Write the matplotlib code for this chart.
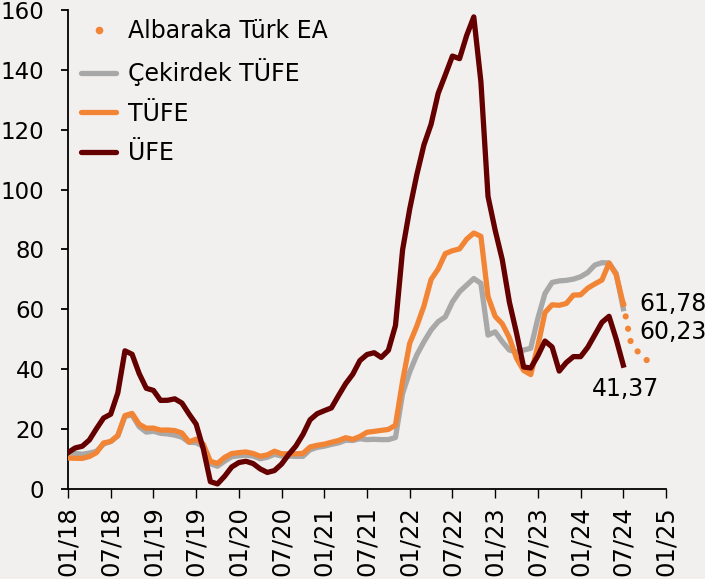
import matplotlib
matplotlib.use("Agg")
import matplotlib.pyplot as plt
from matplotlib.lines import Line2D
import numpy as np

# annual % change, monthly, 01/2018 .. 07/2024
tufe = [
    10.35, 10.26, 10.23, 10.85, 12.15, 15.39, 15.85, 17.90, 24.52, 25.24, 21.62, 20.30,
    20.35, 19.67, 19.71, 19.50, 18.71, 15.72, 16.65, 15.01, 9.26, 8.55, 10.56, 11.84,
    12.15, 12.37, 11.86, 10.94, 11.39, 12.62, 11.76, 11.77, 11.75, 11.89, 14.03, 14.60,
    14.97, 15.61, 16.19, 17.14, 16.59, 17.53, 18.95, 19.25, 19.58, 19.89, 21.31, 36.08,
    48.69, 54.44, 61.14, 69.97, 73.50, 78.62, 79.60, 80.21, 83.45, 85.51, 84.39, 64.27,
    57.68, 55.18, 50.51, 43.68, 39.59, 38.21, 47.83, 58.94, 61.53, 61.36, 61.98, 64.77,
    64.86, 67.07, 68.50, 69.80, 75.45, 71.60, 61.78,
]
cekirdek = [
    12.0, 11.9, 11.6, 12.0, 12.6, 15.0, 15.9, 17.7, 24.3, 24.7, 20.8, 19.0,
    19.3, 18.6, 18.4, 18.0, 17.3, 15.6, 15.5, 14.2, 8.4, 7.6, 9.3, 10.8,
    11.1, 11.3, 11.0, 10.1, 10.6, 11.6, 11.0, 11.0, 10.9, 10.9, 13.1, 13.9,
    14.3, 14.9, 15.4, 16.3, 16.2, 16.8, 16.5, 16.6, 16.5, 16.5, 17.2, 31.9,
    39.1, 44.8, 49.2, 53.1, 55.9, 57.5, 62.5, 65.9, 68.1, 70.3, 68.7, 51.4,
    52.5, 49.2, 46.4, 45.8, 46.4, 47.0, 57.0, 65.3, 69.0, 69.5, 69.7, 70.1,
    70.9, 72.3, 74.8, 75.6, 75.5, 72.0, 60.23,
]
ufe = [
    12.14, 13.71, 14.28, 16.37, 20.16, 23.71, 25.00, 32.13, 46.15, 45.01, 38.54, 33.64,
    32.93, 29.59, 29.64, 30.12, 28.71, 25.04, 21.66, 13.45, 2.45, 1.70, 4.26, 7.36,
    8.84, 9.26, 8.50, 6.71, 5.53, 6.17, 8.33, 11.53, 14.33, 18.20, 23.11, 25.15,
    26.16, 27.09, 31.20, 35.17, 38.33, 42.89, 44.92, 45.52, 43.96, 46.31, 54.62, 79.89,
    93.53, 105.01, 114.97, 121.82, 132.16, 138.31, 144.61, 143.75, 151.50, 157.69, 136.02, 97.72,
    86.46, 76.61, 62.43, 52.11, 40.76, 40.42, 44.50, 49.41, 47.44, 39.39, 42.25, 44.22,
    44.20, 47.29, 51.47, 55.66, 57.68, 50.09, 41.37,
]
# Albaraka Türk forecast path, 07/2024 .. 11/2024
forecast = [61.78, 49.5, 46.0, 43.5, 42.0]

tick_labels = ["01/18", "07/18", "01/19", "07/19", "01/20", "07/20", "01/21", "07/21",
               "01/22", "07/22", "01/23", "07/23", "01/24", "07/24", "01/25"]
end_labels = ["61,78", "60,23", "41,37"]

ORANGE = "#F28535"
GREY = "#A8A8A8"
DARK = "#650000"
BG = "#F2F0EF"

fig = plt.figure(figsize=(7.05, 5.79), dpi=100, facecolor=BG)
ax = fig.add_axes([68 / 705, 90 / 579, 598 / 705, 479 / 579])
ax.set_facecolor(BG)

x = np.arange(len(tufe))
xf = np.arange(len(tufe) - 1, len(tufe) - 1 + len(forecast))

ax.plot(x, cekirdek, color=GREY, lw=3.8, solid_joinstyle="round", zorder=2)
ax.plot(x, tufe, color=ORANGE, lw=3.8, solid_joinstyle="round", zorder=3)
ax.plot(x, ufe, color=DARK, lw=3.8, solid_joinstyle="round", zorder=4)
ax.plot(xf, forecast, color=ORANGE, lw=4.5, linestyle=(0, (0.01, 2.0)),
        dash_capstyle="round", zorder=3)

ax.set_xlim(0, 84)
ax.set_ylim(0, 160)
ax.set_xticks(np.arange(0, 85, 6))
ax.set_xticklabels(tick_labels, rotation=90, fontsize=17.5)
ax.set_yticks(np.arange(0, 161, 20))
ax.tick_params(axis="y", labelsize=16.5, length=5, width=1.3, pad=12)
ax.tick_params(axis="x", length=6.5, width=1.0, pad=6)
for side in ["top", "right"]:
    ax.spines[side].set_visible(False)
for side in ["left", "bottom"]:
    ax.spines[side].set_linewidth(1.3)

ax.text(80.2, 61.8, end_labels[0], fontsize=17, va="center", ha="left")
ax.text(80.2, 52.6, end_labels[1], fontsize=17, va="center", ha="left")
ax.text(73.6, 33.4, end_labels[2], fontsize=17, va="center", ha="left")

handles = [
    Line2D([], [], color=ORANGE, marker="o", ls="none", markersize=4.5),
    Line2D([], [], color=GREY, lw=3.8, solid_capstyle="round"),
    Line2D([], [], color=ORANGE, lw=3.8, solid_capstyle="round"),
    Line2D([], [], color=DARK, lw=3.8, solid_capstyle="round"),
]
labels = ["Albaraka Türk EA", "Çekirdek TÜFE", "TÜFE", "ÜFE"]
ax.legend(handles, labels, loc="upper left", bbox_to_anchor=(81 / 705, 1 - 19 / 579),
          bbox_transform=fig.transFigure, frameon=False, fontsize=17,
          handlelength=1.5, handletextpad=0.5, labelspacing=0.65,
          borderpad=0, borderaxespad=0)

fig.savefig("out.png", dpi=100, facecolor=BG)
